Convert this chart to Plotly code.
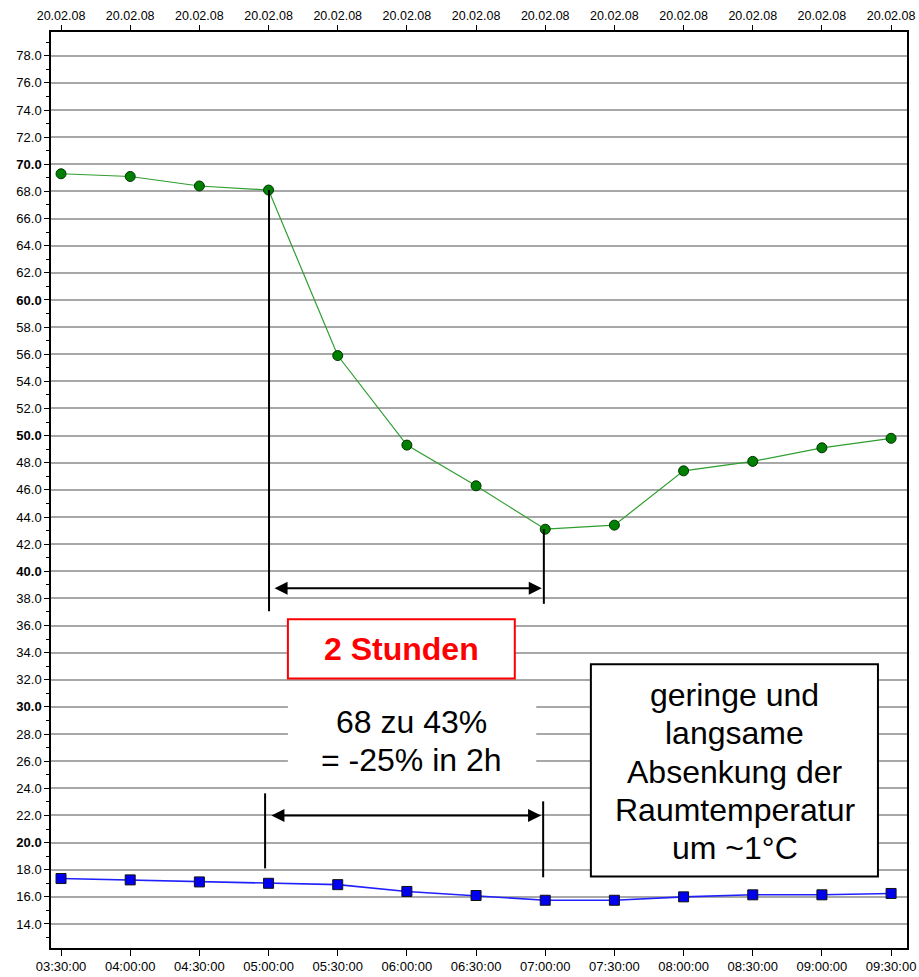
import plotly.graph_objects as go

times = ["03:30:00", "04:00:00", "04:30:00", "05:00:00", "05:30:00", "06:00:00", "06:30:00",
         "07:00:00", "07:30:00", "08:00:00", "08:30:00", "09:00:00", "09:30:00"]
dates = ["20.02.08"] * 13
humidity = [69.3, 69.1, 68.4, 68.1, 55.9, 49.3, 46.3, 43.1, 43.4, 47.4, 48.1, 49.1, 49.8]
temperature = [17.35, 17.25, 17.1, 17.0, 16.9, 16.4, 16.1, 15.75, 15.75, 16.0, 16.15, 16.15, 16.25]
y_ticks = [14 + 2 * i for i in range(33)]
bold_ticks = [20, 30, 40, 50, 60, 70]

change_lines = ["68 zu 43%", "= -25% in 2h"]
note_lines = ["geringe und", "langsame", "Absenkung der", "Raumtemperatur", "um ~1°C"]

tick_font = dict(family="Liberation Sans Narrow, Arial Narrow, sans-serif", size=13, color="black")
top_font = dict(family="Liberation Sans Narrow, Arial Narrow, sans-serif", size=12.5, color="black")

fig = go.Figure()
fig.add_trace(go.Scatter(
    x=times, y=humidity, mode="lines+markers",
    line=dict(color="#2f9e2f", width=1.2),
    marker=dict(symbol="circle", size=10, color="#008000", line=dict(color="#003300", width=1)),
    showlegend=False))
fig.add_trace(go.Scatter(
    x=times, y=temperature, mode="lines+markers",
    line=dict(color="#2020ff", width=1.6),
    marker=dict(symbol="square", size=10, color="#0000ee", line=dict(color="#111111", width=1)),
    showlegend=False))
# invisible trace for top date axis
fig.add_trace(go.Scatter(x=list(range(len(dates))), y=[None] * len(dates), xaxis="x2",
                         mode="markers", showlegend=False, hoverinfo="skip"))

ticktext = [f"<b>{v:.1f}</b>" if v in bold_ticks else f"{v:.1f}" for v in y_ticks]

xr = [-0.145, 12.23]
fig.update_layout(
    width=919, height=977,
    margin=dict(l=51, r=12, t=32, b=29),
    paper_bgcolor="white", plot_bgcolor="white",
    xaxis=dict(type="category", range=xr, showgrid=False, ticks="outside", ticklen=6,
               tickcolor="black", showline=True, linecolor="black", linewidth=1.5,
               mirror=True, tickfont=tick_font, zeroline=False, automargin=False),
    xaxis2=dict(overlaying="x", side="top", range=xr, tickvals=list(range(len(dates))),
                ticktext=dates, showgrid=False, ticks="outside", ticklen=6, tickcolor="black",
                tickfont=top_font, zeroline=False, showline=False, automargin=False),
    yaxis=dict(range=[12.23, 79.75], tickvals=y_ticks, ticktext=ticktext, showgrid=True,
               gridcolor="#a8a8a8", gridwidth=1.6, ticks="outside", ticklen=5,
               tickcolor="black", showline=True, linecolor="black", linewidth=1.5,
               mirror=True, tickfont=tick_font, zeroline=False, automargin=False,
               minor=dict(dtick=1, tick0=0, ticks="outside", ticklen=3, tickcolor="black",
                          showgrid=False)),
)

# vertical markers
line_style = dict(color="black", width=2)
fig.add_shape(type="line", x0=3.007, x1=3.007, y0=68.1, y1=37.05, line=line_style)
fig.add_shape(type="line", x0=6.98, x1=6.98, y0=43.1, y1=37.6, line=line_style)
fig.add_shape(type="line", x0=2.95, x1=2.95, y0=23.63, y1=18.1, line=line_style)
fig.add_shape(type="line", x0=6.97, x1=6.97, y0=23.04, y1=17.44, line=line_style)

# double arrows
for (xa, xb, yy) in [(3.065, 6.95, 38.75), (3.02, 6.94, 22.0)]:
    fig.add_annotation(x=xb, y=yy, ax=xa, ay=yy, axref="x", ayref="y", xref="x", yref="y",
                       text="", showarrow=True, arrowhead=2, arrowside="end+start",
                       arrowsize=1.3, arrowwidth=2, arrowcolor="black")

big_font = "Liberation Sans, Arial, sans-serif"

# red box
fig.add_shape(type="rect", x0=3.28, x1=6.56, y0=32.1, y1=36.46, layer="above",
              fillcolor="white", line=dict(color="#ff0000", width=2))
fig.add_annotation(x=4.92, y=34.3, xref="x", yref="y", text="<b>2 Stunden</b>",
                   showarrow=False, font=dict(family=big_font, size=32, color="#ff0000"))

# white box with text
fig.add_shape(type="rect", x0=3.28, x1=6.87, y0=25.0, y1=31.1, layer="above",
              fillcolor="white", line=dict(width=0))
for txt, yy in zip(change_lines, [28.86, 26.06]):
    fig.add_annotation(x=5.06, y=yy, xref="x", yref="y", text=txt, showarrow=False,
                       font=dict(family=big_font, size=32, color="black"))

# black box
fig.add_shape(type="rect", x0=7.66, x1=11.81, y0=17.5, y1=33.14, layer="above",
              fillcolor="white", line=dict(color="black", width=2))
for txt, yy in zip(note_lines, [30.85, 28.05, 25.18, 22.37, 19.57]):
    fig.add_annotation(x=9.74, y=yy, xref="x", yref="y", text=txt, showarrow=False,
                       font=dict(family=big_font, size=32, color="black"))

fig.write_html("out.html", config={"displayModeBar": False},
               post_script="document.body.style.margin='0';document.body.style.overflow='hidden';")
